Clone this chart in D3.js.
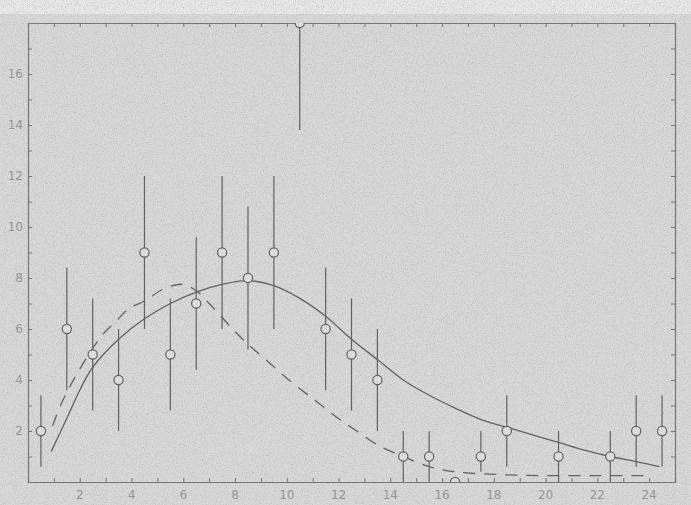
<!DOCTYPE html>
<html>
<head>
<meta charset="utf-8">
<script src="https://cdn.jsdelivr.net/npm/d3@7"></script>
<style>
  body { margin: 0; background: #dadada; }
  svg { display: block; }
</style>
</head>
<body>
<div id="chart"></div>
<script>
// chart size
const width = 691;
const height = 505;
const margin = {top: 23, right: 16, bottom: 23, left: 28};

// measured counts, one per bin centre
const binX   = [0.5, 1.5, 2.5, 3.5, 4.5, 5.5, 6.5, 7.5, 8.5, 9.5, 10.5, 11.5, 12.5, 13.5, 14.5, 15.5, 16.5, 17.5, 18.5, 20.5, 22.5, 23.5, 24.5];
const counts = [2, 6, 5, 4, 9, 5, 7, 9, 8, 9, 18, 6, 5, 4, 1, 1, 0, 1, 2, 1, 1, 2, 2];
// error bar ends (null = no bar)
const errLow  = [0.6, 3.6, 2.8, 2.0, 6.0, 2.8, 4.4, 6.0, 5.2, 6.0, 13.8, 3.6, 2.8, 2.0, 0, 0, null, 0.4, 0.6, 0, 0, 0.6, 0.6];
const errHigh = [3.4, 8.4, 7.2, 6.0, 12.0, 7.2, 9.6, 12.0, 10.8, 12.0, 19, 8.4, 7.2, 6.0, 2, 2, null, 2, 3.4, 2, 2, 3.4, 3.4];

// solid fitted curve
const solidX = [0.9, 1.5, 2.0, 2.5, 3.5, 4.5, 5.5, 6.5, 7.5, 8.5, 9.5, 10.5, 11.5, 12.5, 13.5, 14.5, 15.5, 16.5, 17.5, 18.5, 19.5, 20.5, 21.5, 22.5, 23.5, 24.4];
const solidY = [1.2, 2.5, 3.6, 4.5, 5.6, 6.4, 7.0, 7.45, 7.75, 7.9, 7.7, 7.2, 6.5, 5.6, 4.8, 4.0, 3.4, 2.9, 2.45, 2.15, 1.85, 1.55, 1.25, 1.0, 0.8, 0.6];

// dashed curve
const dashX = [0.95, 1.3, 2.1, 2.9, 3.4, 3.9, 4.5, 5.3, 6.0, 6.5, 7.0, 7.5, 8.0, 8.5, 9.3, 10.2, 11.1, 11.9, 12.7, 13.6, 14.5, 15.5, 16.5, 18, 20, 22, 24];
const dashY = [2.2, 3.1, 4.6, 5.8, 6.3, 6.8, 7.1, 7.6, 7.75, 7.5, 7.0, 6.45, 5.9, 5.4, 4.7, 3.9, 3.2, 2.56, 2.0, 1.4, 1.0, 0.6, 0.4, 0.3, 0.25, 0.25, 0.25];

const xTicks = [2, 4, 6, 8, 10, 12, 14, 16, 18, 20, 22, 24];
const yTicks = [2, 4, 6, 8, 10, 12, 14, 16];

const ink = "#626262";
const paper = "#d8d8d8";

const svg = d3.select("#chart").append("svg")
    .attr("width", width)
    .attr("height", height);

// grainy paper
const defs = svg.append("defs");
const grain = defs.append("filter").attr("id", "grain")
    .attr("x", 0).attr("y", 0).attr("width", "100%").attr("height", "100%");
grain.append("feTurbulence")
    .attr("type", "fractalNoise")
    .attr("baseFrequency", 0.9)
    .attr("numOctaves", 2)
    .attr("seed", 4);
grain.append("feColorMatrix")
    .attr("type", "matrix")
    .attr("values", "0 0 0 0 0.4  0 0 0 0 0.4  0 0 0 0 0.4  0 0 0 -2.2 1.25");

svg.append("rect")
    .attr("width", width).attr("height", height)
    .attr("fill", paper);
svg.append("rect")
    .attr("width", width).attr("height", 14)
    .attr("fill", "#e8e8e8");
svg.append("rect")
    .attr("width", width).attr("height", height)
    .attr("filter", "url(#grain)")
    .attr("opacity", 0.45);

defs.append("clipPath").attr("id", "plotclip")
  .append("rect")
    .attr("x", margin.left).attr("y", margin.top)
    .attr("width", width - margin.left - margin.right)
    .attr("height", height - margin.top - margin.bottom);

const x = d3.scaleLinear()
    .domain([0, 25])
    .range([margin.left, width - margin.right]);

const y = d3.scaleLinear()
    .domain([0, 18])
    .range([height - margin.bottom, margin.top]);

const minorX = d3.range(1, 25);
const minorY = d3.range(1, 18);

// axes on all four sides, ticks pointing inward
svg.append("g")
    .attr("transform", `translate(0,${y(0)})`)
    .call(d3.axisTop(x).tickValues(minorX).tickSize(4).tickFormat(""));
svg.append("g")
    .attr("transform", `translate(0,${y(18)})`)
    .call(d3.axisBottom(x).tickValues(minorX).tickSize(4).tickFormat(""));
svg.append("g")
    .attr("transform", `translate(${x(0)},0)`)
    .call(d3.axisRight(y).tickValues(minorY).tickSize(4).tickFormat(""));
svg.append("g")
    .attr("transform", `translate(${x(25)},0)`)
    .call(d3.axisLeft(y).tickValues(minorY).tickSize(4).tickFormat(""));

svg.selectAll(".domain").attr("stroke", "#767676").attr("stroke-width", 1.2);
svg.selectAll(".tick line").attr("stroke", "#767676").attr("stroke-width", 1);

// tick labels
svg.append("g").selectAll("text")
    .data(xTicks)
    .enter()
    .append("text")
    .attr("x", d => x(d))
    .attr("y", y(0) + 17)
    .attr("text-anchor", "middle")
    .attr("font-family", "DejaVu Sans, sans-serif")
    .attr("font-size", 12)
    .attr("fill", "#959595")
    .text(d => d);

svg.append("g").selectAll("text")
    .data(yTicks)
    .enter()
    .append("text")
    .attr("x", x(0) - 5)
    .attr("y", d => y(d) + 4)
    .attr("text-anchor", "end")
    .attr("font-family", "DejaVu Sans, sans-serif")
    .attr("font-size", 12)
    .attr("fill", "#959595")
    .text(d => d);

const plot = svg.append("g").attr("clip-path", "url(#plotclip)");

// curves
const line = d3.line().curve(d3.curveCatmullRom.alpha(0.5));

plot.append("path")
    .datum(dashX.map((d, i) => [x(d), y(dashY[i])]))
    .attr("fill", "none")
    .attr("stroke", ink)
    .attr("stroke-width", 1.3)
    .attr("stroke-dasharray", "12,9")
    .attr("d", line);

plot.append("path")
    .datum(solidX.map((d, i) => [x(d), y(solidY[i])]))
    .attr("fill", "none")
    .attr("stroke", ink)
    .attr("stroke-width", 1.3)
    .attr("d", line);

// error bars
const pts = binX.map((d, i) => ({x: d, n: counts[i], lo: errLow[i], hi: errHigh[i]}));

plot.selectAll(".err")
    .data(pts.filter(d => d.lo !== null))
    .enter()
    .append("line")
    .attr("class", "err")
    .attr("x1", d => x(d.x))
    .attr("x2", d => x(d.x))
    .attr("y1", d => y(d.lo))
    .attr("y2", d => y(d.hi))
    .attr("stroke", ink)
    .attr("stroke-width", 1.2);

// points
plot.selectAll("circle")
    .data(pts)
    .enter()
    .append("circle")
    .attr("cx", d => x(d.x))
    .attr("cy", d => y(d.n))
    .attr("r", 4.6)
    .attr("fill", "#dcdcdc")
    .attr("stroke", ink)
    .attr("stroke-width", 1.2);
</script>
</body>
</html>
